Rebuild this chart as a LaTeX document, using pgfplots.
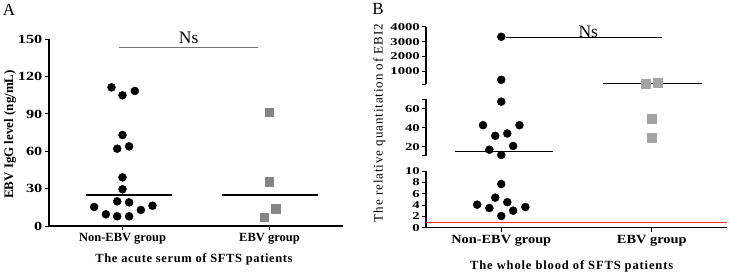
\documentclass[border=0pt]{standalone}
\usepackage{fontspec}
\setmainfont{Liberation Serif}
\usepackage{pgfplots}
\pgfplotsset{compat=1.18}
\newfontfamily\stA{Liberation Serif}[FakeStretch=1.3]
\newfontfamily\stB{Liberation Serif}[FakeStretch=1.4]
\newfontfamily\stBx{Liberation Serif}[FakeStretch=1.15]
\newfontfamily\spA{Liberation Serif}[LetterSpace=5]
\newfontfamily\spB{Liberation Serif}[LetterSpace=7]
\definecolor{sqA}{HTML}{858585}
\definecolor{sqB}{HTML}{A3A3A3}
\pgfplotsset{
  gp/.style={scale only axis, clip=false,
    axis line style={line width=1.3pt},
    tick style={line width=1pt, black},
    tick align=outside, major tick length=4pt,
    xmin=0.5, xmax=2.5,
    /pgf/number format/assume math mode=true,
    /pgf/number format/1000 sep={},
    scaled y ticks=false},
  dots/.style={only marks, mark=*, mark size=4pt, black},
}
\begin{document}
\begin{tikzpicture}
\useasboundingbox (0,0) rectangle (729pt,274pt);
% ---------------- Panel A ----------------
\begin{axis}[gp, at={(49pt,48pt)}, anchor=south west,
  width=294pt, height=186.7pt,
  axis x line*=bottom, axis y line*=left,
  ymin=0, ymax=150, ytick={0,30,60,90,120,150},
  xtick={1,2}, xticklabels={Non-EBV group, EBV group},
  y tick label style={font=\stA\bfseries\fontsize{12.5}{12.5}\selectfont, inner sep=2.5pt},
  x tick label style={font=\bfseries\fontsize{12.5}{13}\selectfont}]
\addplot[dots] coordinates {
 (0.925,111.4) (1,105) (1.084,108.5) (1,73.1) (0.964,62.1) (1.045,64.0)
 (1,39.1) (1,29.5) (0.964,19.8) (1.045,19.0) (0.807,15.3) (0.887,9.4)
 (0.964,7.8) (1.045,7.8) (1.125,12.9) (1.204,16.3)};
\addplot[only marks, mark=square*, mark size=4.2pt, sqA] coordinates {
 (2,91.3) (2,35.6) (2.041,13.9) (1.964,7.2)};
\addplot[black, line width=1.2pt] coordinates {(0.752,24.9) (1.337,24.9)};
\addplot[black, line width=1.2pt] coordinates {(1.675,24.9) (2.33,24.9)};
\addplot[black!55, line width=0.9pt] coordinates {(0.976,143.3) (1.92,143.3)};
\end{axis}
\node[rotate=90] at (10pt,139.5pt) {\bfseries\fontsize{13}{13}\selectfont EBV IgG level (ng/mL)};
\node at (194pt,15pt) {\spA\bfseries\fontsize{12.5}{13}\selectfont The acute serum of SFTS patients};
\node at (188.7pt,236pt) {\fontsize{17.5}{17.5}\selectfont Ns};
\node at (9pt,264.5pt) {\fontsize{17}{17}\selectfont A};
% ---------------- Panel B ----------------
% bottom segment 0-10
\begin{axis}[gp, at={(426pt,46.3pt)}, anchor=south west,
  width=301pt, height=56.7pt,
  axis x line*=bottom, axis y line*=left,
  ymin=0, ymax=10, ytick={0,2,4,6,8,10},
  xtick={1,2}, xticklabels={Non-EBV group, EBV group},
  y tick label style={font=\stB\bfseries\fontsize{10.5}{10}\selectfont, inner sep=2pt},
  x tick label style={font=\stBx\bfseries\fontsize{12.5}{13}\selectfont}]
\addplot[red!85, line width=0.6pt] coordinates {(0.5,1) (2.5,1)};
\addplot[dots] coordinates {
 (1,7.7) (0.96,5.3) (1.04,4.5) (0.84,4.06) (0.921,3.47) (1.079,3.0)
 (1.16,3.65) (1,2.06)};
\end{axis}
% middle segment 10-70
\begin{axis}[gp, at={(426pt,118.3pt)}, anchor=south west,
  width=301pt, height=56.4pt,
  axis x line=none, axis y line*=left,
  ymin=10.4, ymax=70.3, ytick={20,40,60},
  extra y ticks={10.4,70.3}, extra y tick labels={},
  y tick label style={font=\stB\bfseries\fontsize{10.5}{10}\selectfont, inner sep=2pt}]
\addplot[dots] coordinates {
 (1,67.8) (0.879,42.8) (1.121,42.8) (0.96,31.5) (1.04,34.0)
 (0.921,16.8) (1.079,20.7) (1,11.2)};
\addplot[only marks, mark=square*, mark size=4.4pt, sqB] coordinates {
 (2,49.5) (2,29.8)};
\addplot[black, line width=1.3pt] coordinates {(0.69,14.7) (1.343,14.7)};
\end{axis}
% top segment 100-4000
\begin{axis}[gp, at={(426pt,189.7pt)}, anchor=south west,
  width=301pt, height=57.3pt,
  axis x line=none, axis y line*=left,
  ymin=100, ymax=4000, ytick={1000,2000,3000,4000},
  extra y ticks={100}, extra y tick labels={},
  y tick label style={font=\stB\bfseries\fontsize{10.5}{10}\selectfont, inner sep=2pt}]
\addplot[dots] coordinates {(1,3334) (1,405)};
\addplot[only marks, mark=square*, mark size=4.4pt, sqB] coordinates {
 (1.96,153) (2.04,222)};
\addplot[black, line width=1.2pt] coordinates {(1.673,153) (2.333,153)};
\addplot[black, line width=0.9pt] coordinates {(1.034,3290) (2.07,3290)};
\end{axis}
\node[rotate=90] at (379.5pt,151pt) {\spB\fontsize{13}{13}\selectfont The relative quantitation of EBI2};
\node at (571.7pt,8pt) {\spB\bfseries\fontsize{12.5}{13}\selectfont The whole blood of SFTS patients};
\node at (588.3pt,242pt) {\fontsize{17.5}{17.5}\selectfont Ns};
\node at (378pt,265.5pt) {\fontsize{17}{17}\selectfont B};
\end{tikzpicture}
\end{document}
